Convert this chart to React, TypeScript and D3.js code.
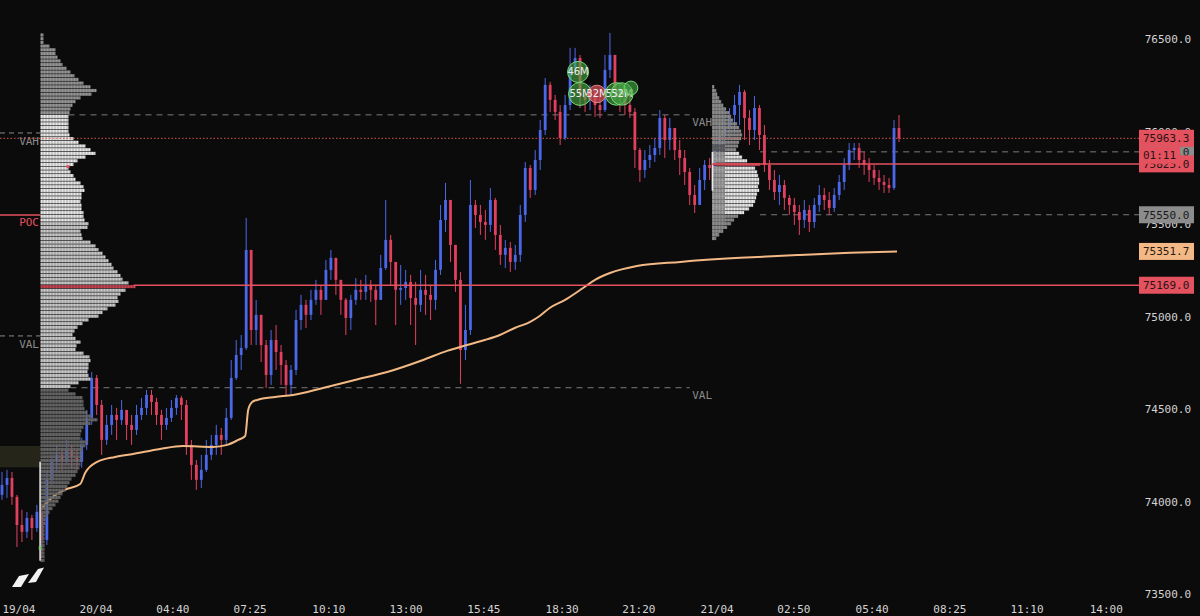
import React from "react";
import * as d3 from "d3";

const W = 1200;
const H = 616;

const yTicks = [73500, 74000, 74500, 75000, 75500, 76000, 76500];
const xTickLabels = ["19/04", "20/04", "04:40", "07:25", "10:10", "13:00", "15:45", "18:30", "21:20", "21/04", "02:50", "05:40", "08:25", "11:10", "14:00"];
const xTickBars = [3.4, 18.9, 34.3, 49.8, 65.6, 81.1, 96.7, 112.4, 127.8, 143.5, 158.9, 174.6, 190.2, 205.7, 221.6];

const firstOpen = 74036;
const closes = [
  74090, 74127, 74025, 73873, 73836, 73911, 73857, 73944, 73792, 74117,
  74214, 74252, 74214, 74279, 74236, 74214, 74306, 74452, 74668, 74522,
  74333, 74414, 74468, 74441, 74495, 74414, 74387, 74468, 74506, 74576,
  74538, 74468, 74414, 74452, 74506, 74560, 74522, 74306, 74198, 74117,
  74171, 74252, 74306, 74360, 74333, 74452, 74668, 74792, 74830, 75360,
  74927, 75009, 74846, 74684, 74873, 74808, 74738, 74630, 74711, 74981,
  75063, 75009, 75090, 75144, 75090, 75252, 75317, 75198, 75090, 74992,
  75090, 75144, 75133, 75171, 75144, 75090, 75262, 75414, 75295, 75144,
  75154, 75187, 75100, 75063, 75144, 75117, 75090, 75252, 75522, 75630,
  75387, 75198, 74819, 74927, 75603, 75549, 75511, 75495, 75630, 75441,
  75333, 75371, 75295, 75333, 75549, 75803, 75684, 75846, 76008, 76252,
  76171, 76106, 75965, 76143, 76343, 76397, 76198, 76171, 76214, 76143,
  76116, 76333, 76414, 76225, 76181, 76143, 76106, 75900, 75792, 75846,
  75873, 75911, 76073, 75954, 76019, 75900, 75857, 75781, 75657, 75603,
  75738, 75819, 75803, 75900, 75981, 76019, 76089, 76143, 76214, 76073,
  76008, 76127, 75981, 75819, 75738, 75673, 75711, 75641, 75603, 75565,
  75522, 75576, 75511, 75603, 75657, 75630, 75587, 75657, 75727, 75819,
  75900, 75911, 75846, 75819, 75792, 75749, 75727, 75711, 75695, 76019,
  75963.3,
];
const highs = [
  74160, 74171, 74160, 74036, 73955, 73944, 73928, 73982, 73965, 74171,
  74252, 74306, 74290, 74333, 74306, 74279, 74344, 74495, 74700, 74684,
  74549, 74468, 74522, 74506, 74549, 74495, 74468, 74522, 74560, 74603,
  74603, 74560, 74495, 74506, 74549, 74576, 74571, 74549, 74333, 74225,
  74252, 74333, 74360, 74414, 74398, 74506, 74765, 74873, 74900, 75533,
  75360, 75090, 74992, 74873, 74927, 74954, 74846, 74765, 74738, 75036,
  75117, 75090, 75144, 75198, 75171, 75306, 75360, 75317, 75187, 75100,
  75117, 75208, 75198, 75225, 75198, 75171, 75333, 75630, 75441, 75262,
  75279, 75252, 75225, 75187, 75252, 75225, 75171, 75306, 75603, 75722,
  75603, 75387, 75241, 75063, 75738, 75630, 75603, 75576, 75695, 75641,
  75495, 75414, 75403, 75387, 75603, 75835, 75819, 75900, 76062, 76289,
  76268, 76198, 76143, 76198, 76452, 76452, 76414, 76235, 76252, 76235,
  76198, 76414, 76533, 76376, 76252, 76225, 76198, 76127, 75911, 75900,
  75927, 75965, 76116, 76089, 76073, 76019, 75954, 75900, 75803, 75711,
  75803, 75846, 75857, 75954, 76035, 76073, 76127, 76198, 76252, 76225,
  76116, 76192, 76143, 76035, 75846, 75792, 75765, 75738, 75657, 75641,
  75603, 75630, 75603, 75641, 75711, 75695, 75673, 75695, 75765, 75857,
  75938, 75938, 75938, 75889, 75857, 75819, 75792, 75765, 75749, 76062,
  76089,
];
const lows = [
  74009, 74019, 73982, 73754, 73781, 73803, 73792, 73836, 73695, 73765,
  74090, 74171, 74171, 74198, 74182, 74171, 74182, 74279, 74414, 74468,
  74252, 74306, 74360, 74333, 74414, 74333, 74306, 74360, 74441, 74468,
  74468, 74414, 74333, 74387, 74430, 74468, 74441, 74252, 74117, 74063,
  74073, 74160, 74225, 74252, 74252, 74306, 74441, 74657, 74711, 74819,
  74846, 74846, 74754, 74614, 74630, 74711, 74630, 74576, 74576, 74684,
  74927, 74938, 74981, 75063, 75009, 75090, 75198, 75117, 75009, 74900,
  74927, 75063, 75090, 75090, 75079, 74954, 75090, 75252, 75171, 74954,
  75063, 75090, 74954, 74846, 75025, 75009, 74981, 75036, 75225, 75457,
  75295, 75133, 74636, 74765, 74900, 75479, 75441, 75414, 75457, 75360,
  75279, 75262, 75241, 75252, 75295, 75511, 75641, 75657, 75792, 75981,
  76106, 76062, 75927, 75954, 76116, 76306, 76127, 76106, 76116, 76079,
  76073, 76106, 76289, 76171, 76106, 76089, 76073, 75803, 75727, 75749,
  75803, 75835, 75873, 75857, 75900, 75846, 75765, 75711, 75603, 75560,
  75630, 75684, 75738, 75781, 75846, 75900, 75954, 76008, 76035, 75954,
  75927, 75954, 75900, 75781, 75684, 75630, 75603, 75576, 75549, 75495,
  75441, 75479, 75457, 75479, 75565, 75576, 75549, 75565, 75630, 75684,
  75792, 75846, 75803, 75765, 75727, 75711, 75684, 75668, 75668, 75684,
  75943,
];

// VWAP samples (bar index, price)
const vwapBars = [8.0, 10.2, 12.6, 15.7, 16.7, 19.1, 22.7, 26.3, 31.7, 36.3, 42.3, 45.2, 47.4, 48.8, 49.4, 50.2, 51.2, 54.8, 58.4, 64.4, 70.8, 77.3, 84.5, 89.3, 93.3, 96.9, 99.9, 102.9, 105.9, 107.9, 109.9, 113.0, 116.6, 119.0, 122.0, 127.4, 136.1, 148.1, 160.1, 170.2, 179.6];
const vwapValues = [73965, 74025, 74063, 74095, 74155, 74214, 74241, 74257, 74284, 74300, 74295, 74306, 74333, 74354, 74495, 74538, 74549, 74565, 74576, 74614, 74657, 74700, 74765, 74814, 74846, 74873, 74900, 74938, 74970, 75003, 75046, 75090, 75154, 75198, 75235, 75273, 75295, 75317, 75333, 75344, 75351.7];

// Session volume profile 1 (bins of 20 from 76520 down)
const profile1Top = 76520;
const profile1Vol = [
  3, 3, 3, 9, 15, 15, 17, 20, 22, 26,
  30, 34, 38, 43, 50, 56, 51, 40, 35, 32,
  30, 29, 28, 28, 28, 28, 28, 29, 33, 38,
  45, 50, 55, 45, 37, 33, 28, 30, 33, 35,
  40, 43, 44, 41, 41, 40, 41, 41, 43, 43,
  44, 48, 47, 40, 41, 42, 50, 55, 58, 62,
  65, 68, 71, 73, 77, 80, 82, 88, 95, 85,
  80, 77, 78, 75, 67, 62, 58, 48, 42, 37,
  34, 32, 35, 40, 36, 35, 43, 49, 50, 48,
  48, 47, 48, 50, 38, 30, 28, 35, 42, 43,
  43, 44, 47, 51, 57, 50, 43, 41, 40, 40,
  47, 45, 42, 41, 41, 41, 40, 39, 37, 35,
  31, 29, 27, 25, 22, 20, 18, 15, 12, 9,
  7, 5, 5, 4, 4, 4, 4, 4, 4, 4,
  4, 4, 4,
];
const profile1VAH = 76090;
const profile1VAL = 74615;
const profile1POC = 75169;

// Session volume profile 2
const profile2Top = 76240;
const profile2Vol = [
  2, 4, 5, 7, 9, 11, 14, 17, 19, 21,
  25, 27, 29, 30, 29, 27, 26, 24, 27, 30,
  35, 48, 43, 45, 46, 47, 47, 46, 47, 45,
  44, 43, 41, 37, 32, 26, 22, 19, 15, 11,
  7, 4,
];
const profile2VAH = 75890;
const profile2VAL = 75550;
const profile2POC = 75825;
const binStep = 20;

// previous session levels (left edge)
const prevVAH = 75992;
const prevPOC = 75549;
const prevVAL = 74895;

const lastPrice = 75963.3;
const vwapLast = 75351.7;
const countdown = "01:11";

// large trade bubbles
const bubbleBars = [115.6, 116.0, 119.4, 123.3, 124.4, 126.2];
const bubblePrices = [76322, 76203, 76203, 76203, 76203, 76235];
const bubbleVols = [46, 55, 32, 53, 52, 20];
const bubbleLabels = ["46M", "55M", "32M", "53M", "52M", ""];
const bubbleSide = ["buy", "buy", "sell", "buy", "buy", "buy"];

const UP = "#4b68ea";
const DOWN = "#e2405e";
const RED = "#e4525f";
const MONO = "'DejaVu Sans Mono', monospace";

export default function App() {
  const y = d3.scaleLinear().domain([73500, 76500]).range([594, 39]);
  const x = d3.scaleLinear().domain([0, 180]).range([2, 899]);
  const vol = d3.scaleLinear().domain([0, 95]).range([0, 95]);
  const rScale = d3.scaleSqrt().domain([0, 55]).range([0, 11.5]);
  const fmt = d3.format(".1f");

  const p1x = 40.5;
  const p2x = x(142.5);

  const candles = closes.map((c, i) => {
    const o = i === 0 ? firstOpen : closes[i - 1];
    return { i, o, c, h: Math.max(highs[i], o, c), l: Math.min(lows[i], o, c) };
  });

  const vwapLine = d3
    .line<number>()
    .x((_, i) => x(vwapBars[i]))
    .y((d) => y(d))
    .curve(d3.curveMonotoneX);

  const rows1 = profile1Vol.map((v, i) => {
    const p = profile1Top - binStep * i;
    const y0 = y(p + binStep / 2);
    const y1 = y(p - binStep / 2);
    let fill = "#969696";
    let op = 1;
    if (Math.abs(p - profile1POC) <= binStep / 2) fill = "#c4424f";
    else if (p > profile1VAH) fill = "#969696";
    else if (p > 75500) fill = "#e8e8e8";
    else if (p >= profile1VAL) fill = "#cacaca";
    else {
      fill = "#707070";
      op = 0.92;
    }
    return { p, y0, h: y1 - y0 - 0.6, w: vol(v), fill, op };
  });

  const rows2 = profile2Vol.map((v, i) => {
    const p = profile2Top - binStep * i;
    const y0 = y(p + binStep / 2);
    const y1 = y(p - binStep / 2);
    let fill = "#888888";
    let left = "#888888";
    if (Math.abs(p - profile2POC) <= binStep / 2) {
      fill = "#b4404e";
      left = "#8a3a44";
    } else if (p > profile2VAH + 30) {
      fill = "#8e8e8e";
      left = "#8e8e8e";
    } else if (p > profile2VAH) {
      fill = "#8e8e8e";
      left = "#606060";
    } else if (p >= profile2VAL) {
      fill = "#ebebeb";
      left = "#a0a0a0";
    } else {
      fill = "#8e8e8e";
      left = "#8e8e8e";
    }
    return { p, y0, h: y1 - y0 - 0.6, w: vol(v), fill, left };
  });

  const w1At = (price: number) => {
    const idx = Math.round((profile1Top - price) / binStep);
    return vol(profile1Vol[Math.max(0, Math.min(profile1Vol.length - 1, idx))]);
  };
  const p2max = vol(d3.max(profile2Vol) as number);
  const chartRight = 1139;
  const lineEnd = x(138);

  const box = (value: string, price: number, bg: string, fg: string, w = 55) => (
    <g key={value + price}>
      <rect x={1139} y={y(price) - 8.5} width={w} height={17} fill={bg} />
      <text x={1143} y={y(price) + 4} fill={fg} fontSize={11} fontFamily={MONO}>
        {value}
      </text>
    </g>
  );

  return (
    <div style={{ position: "absolute", left: 0, top: 0, width: W, height: H }}>
      <svg width={W} height={H} style={{ display: "block", background: "#0b0b0c" }}>
        <defs>
          <pattern id="cellgrid" x={40.5} y={0} width={3} height={100} patternUnits="userSpaceOnUse">
            <rect x={2.3} y={0} width={0.7} height={100} fill="#000" opacity={0.38} />
          </pattern>
          <clipPath id="p1clip">
            {rows1.map((r, i) => (
              <rect key={i} x={p1x} y={r.y0} width={r.w} height={r.h} />
            ))}
          </clipPath>
          <clipPath id="p2clip">
            {rows2.map((r, i) => (
              <rect key={i} x={p2x} y={r.y0} width={r.w} height={r.h} />
            ))}
          </clipPath>
        </defs>
        <rect width={W} height={H} fill="#0b0b0c" />

        {/* highlighted zone at left */}
        <rect x={0} y={y(74300)} width={p1x} height={y(74185) - y(74300)} fill="#25251a" />

        {/* left previous-session levels */}
        <line x1={0} x2={p1x} y1={y(prevVAH)} y2={y(prevVAH)} stroke="#8a8a8a" strokeDasharray="5,4" />
        <text x={39} y={y(prevVAH) + 12} textAnchor="end" fill="#8a8a8a" fontSize={11} fontFamily={MONO}>VAH</text>
        <line x1={0} x2={p1x} y1={y(prevPOC)} y2={y(prevPOC)} stroke={RED} strokeWidth={1.5} />
        <text x={39} y={y(prevPOC) + 11} textAnchor="end" fill={RED} fontSize={11} fontFamily={MONO}>POC</text>
        <line x1={0} x2={p1x} y1={y(prevVAL)} y2={y(prevVAL)} stroke="#8a8a8a" strokeDasharray="5,4" />
        <text x={39} y={y(prevVAL) + 12} textAnchor="end" fill="#8a8a8a" fontSize={11} fontFamily={MONO}>VAL</text>

        {/* level lines */}
        <line x1={p1x + w1At(profile1VAH)} x2={lineEnd} y1={y(profile1VAH)} y2={y(profile1VAH)} stroke="#7a7a7a" strokeDasharray="6,5" />
        <line x1={p1x + w1At(profile1VAL)} x2={lineEnd} y1={y(profile1VAL)} y2={y(profile1VAL)} stroke="#7a7a7a" strokeDasharray="6,5" />
        <text x={p2x} y={y(profile1VAH) + 11} textAnchor="end" fill="#8a8a8a" fontSize={11} fontFamily={MONO}>VAH</text>
        <text x={p2x} y={y(profile1VAL) + 11} textAnchor="end" fill="#8a8a8a" fontSize={11} fontFamily={MONO}>VAL</text>
        <line x1={p2x + p2max} x2={chartRight} y1={y(profile2VAH)} y2={y(profile2VAH)} stroke="#7a7a7a" strokeDasharray="6,5" />
        <line x1={p2x + p2max} x2={chartRight} y1={y(profile2VAL)} y2={y(profile2VAL)} stroke="#7a7a7a" strokeDasharray="6,5" />

        {/* candles */}
        {candles.map((d) => {
          const col = d.c >= d.o ? UP : DOWN;
          const top = y(Math.max(d.o, d.c));
          const bh = Math.max(1, Math.abs(y(d.o) - y(d.c)));
          return (
            <g key={d.i}>
              <line x1={x(d.i)} x2={x(d.i)} y1={y(d.h)} y2={y(d.l)} stroke={col} strokeWidth={1} />
              <rect x={x(d.i) - 1.4} y={top} width={2.8} height={bh} fill={col} />
            </g>
          );
        })}

        {/* VWAP */}
        <path d={vwapLine(vwapValues) || ""} fill="none" stroke="#f3b985" strokeWidth={2} />

        {/* profile 1 */}
        <g>
          {rows1.map((r, i) => (
            <rect key={i} x={p1x} y={r.y0} width={r.w} height={r.h} fill={r.fill} opacity={r.op} />
          ))}
          <rect x={p1x} y={20} width={100} height={560} fill="url(#cellgrid)" clipPath="url(#p1clip)" />
          <rect x={p1x + 26} y={y(75810) - 1.5} width={3} height={3} fill={RED} />
          <rect x={39.3} y={y(74215)} width={1.6} height={y(73680) - y(74215)} fill="#dedede" />
          <rect x={38.8} y={y(73760)} width={2.6} height={4} fill="#7ccf7c" />
        </g>

        {/* profile 2 */}
        <g>
          {rows2.map((r, i) => (
            <g key={i}>
              <rect x={p2x} y={r.y0} width={r.w} height={r.h} fill={r.fill} />
              <rect x={p2x} y={r.y0} width={Math.min(r.w, 13)} height={r.h} fill={r.left} />
            </g>
          ))}
          <rect x={p2x} y={80} width={60} height={170} fill="url(#cellgrid)" clipPath="url(#p2clip)" />
          <rect x={p2x - 0.5} y={y(profile2VAH)} width={1.6} height={y(75680) - y(profile2VAH)} fill="#e8e8e8" />
        </g>

        {/* POC lines & current price */}
        <line x1={p1x + w1At(profile1POC) - 2} x2={chartRight} y1={y(profile1POC)} y2={y(profile1POC)} stroke={RED} strokeWidth={1.5} />
        <line x1={p2x} x2={chartRight} y1={y(profile2POC)} y2={y(profile2POC)} stroke={RED} strokeWidth={1.5} />
        <line x1={0} x2={chartRight} y1={y(lastPrice)} y2={y(lastPrice)} stroke="#d9584e" strokeWidth={1} strokeDasharray="1.5,2" />

        {/* bubbles */}
        {bubbleBars.map((b, i) => (
          <g key={i}>
            <circle
              cx={x(b)}
              cy={y(bubblePrices[i])}
              r={rScale(bubbleVols[i])}
              fill={bubbleSide[i] === "buy" ? "rgba(70,170,70,0.62)" : "rgba(205,75,85,0.78)"}
              stroke={bubbleSide[i] === "buy" ? "#77d877" : "#e88088"}
              strokeWidth={1}
            />
            <text x={x(b)} y={y(bubblePrices[i]) + 3.5} textAnchor="middle" fill="#eeeeee" fontSize={10} fontFamily="'DejaVu Sans', sans-serif">
              {bubbleLabels[i]}
            </text>
          </g>
        ))}

        {/* logo */}
        <g fill="#f2f2f2">
          <polygon points="12,587 19,576 29,574 21,587" />
          <polygon points="28,583 38,569 44,567.5 36,582" />
        </g>

        {/* y axis labels */}
        {yTicks.map((t) => (
          <text key={t} x={1191} y={y(t) + 4} textAnchor="end" fill="#d4d4d4" fontSize={11} fontFamily={MONO}>
            {fmt(t)}
          </text>
        ))}

        {/* x axis labels */}
        {xTickLabels.map((l, i) => (
          <text key={l} x={x(xTickBars[i])} y={613} textAnchor="middle" fill="#d4d4d4" fontSize={11} fontFamily={MONO}>
            {l}
          </text>
        ))}

        {/* price boxes */}
        {box(fmt(vwapLast), vwapLast, "#f4b887", "#2b1a10")}
        {box(fmt(profile1POC), profile1POC, RED, "#2b1215")}
        {box(fmt(profile2VAL), profile2VAL, "#8c8c8c", "#1a1a1a")}
        {box(fmt(profile2VAH), profile2VAH, "#8c8c8c", "#1a1a1a")}
        {box(fmt(profile2POC), profile2POC, RED, "#2b1215")}
        {box(fmt(lastPrice), lastPrice, RED, "#2b1215")}
        <rect x={1139} y={y(lastPrice) + 8.5} width={41} height={17} fill={RED} />
        <text x={1143} y={y(lastPrice) + 21} fill="#2b1215" fontSize={11} fontFamily={MONO}>
          {countdown}
        </text>
      </svg>
    </div>
  );
}
